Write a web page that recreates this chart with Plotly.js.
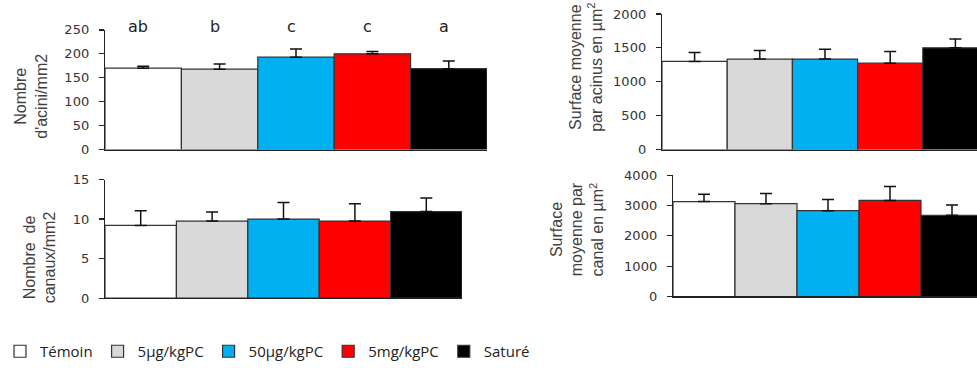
<!DOCTYPE html>
<html>
<head>
<meta charset="utf-8">
<script src="https://cdn.plot.ly/plotly-3.0.1.min.js"></script>
<style>html,body{margin:0;padding:0;overflow:hidden;background:#fff;}</style>
</head>
<body>
<div id="chart" style="width:1000px;height:368px;"></div>
<script>
// ---- data ----
const categories = ['Témoin', '5µg/kgPC', '50µg/kgPC', '5mg/kgPC', 'Saturé'];
const colors = ['#ffffff', '#d9d9d9', '#00b0f0', '#ff0000', '#000000'];

const aciniCount = [170, 168, 193, 200, 169];
const aciniCountErr = [4, 11, 17, 5, 16];
const aciniLetters = ['ab', 'b', 'c', 'c', 'a'];

const aciniArea = [1300, 1335, 1335, 1275, 1500];
const aciniAreaErr = [130, 125, 145, 170, 130];

const canalCount = [9.2, 9.75, 10.0, 9.75, 10.95];
const canalCountErr = [1.85, 1.15, 2.1, 2.2, 1.7];

const canalArea = [3130, 3060, 2830, 3170, 2680];
const canalAreaErr = [240, 340, 370, 460, 335];

const panels = [
  {vals: aciniCount, errs: aciniCountErr, xa: 'x', ya: 'y'},
  {vals: aciniArea, errs: aciniAreaErr, xa: 'x2', ya: 'y2'},
  {vals: canalCount, errs: canalCountErr, xa: 'x3', ya: 'y3'},
  {vals: canalArea, errs: canalAreaErr, xa: 'x4', ya: 'y4'}
];

const traces = [];
panels.forEach((p, pi) => {
  categories.forEach((c, i) => {
    traces.push({
      type: 'bar',
      x: [c], y: [p.vals[i]],
      xaxis: p.xa, yaxis: p.ya,
      name: c, legendgroup: c, showlegend: pi === 0,
      width: 1,
      marker: {color: colors[i], line: {color: '#333', width: 1.2}},
      error_y: {type: 'data', symmetric: false, array: [p.errs[i]], arrayminus: [0],
                color: '#111', thickness: 1.5, width: 6},
      hoverinfo: 'skip'
    });
  });
});

const W = 1000, H = 368;
const px = v => v / W;
const py = v => 1 - v / H;

const tickFont = {family: 'DejaVu Sans, Arial, sans-serif', size: 13, color: '#333'};
function xAxis(x0, x1, anchor) {
  return {domain: [px(x0), px(x1)], anchor: anchor, type: 'category', categoryarray: categories,
          range: [-0.5, 4.5], showline: true, linecolor: '#222', linewidth: 1.2,
          showticklabels: false, ticks: '', showgrid: false, zeroline: false, fixedrange: true};
}
function yAxis(y0, y1, range, dtick, anchor) {
  return {domain: [py(y0), py(y1)], anchor: anchor, range: range, dtick: dtick,
          showline: true, linecolor: '#222', linewidth: 1.2, ticks: 'outside', ticklen: 5,
          tickcolor: '#222', tickwidth: 1.2, ticklabelstandoff: 7, tickfont: tickFont,
          showgrid: false, zeroline: false, fixedrange: true};
}

const titleFont = {family: 'Liberation Sans Narrow, Liberation Sans, Arial, sans-serif', size: 16, color: '#404040'};
const annotations = [
  {text: "Nombre<br>d'acini/mm2", x: px(31), y: py(97)},
  {text: 'Surface moyenne<br>par acinus en µm<sup>2</sup>', x: px(586), y: py(68)},
  {text: 'Nombre  de<br>canaux/mm2', x: px(40), y: py(258)},
  {text: 'Surface<br>moyenne par<br>canal en µm<sup>2</sup>', x: px(577), y: py(230)}
].map(a => Object.assign(a, {xref: 'paper', yref: 'paper', textangle: -90, showarrow: false,
  xanchor: 'center', yanchor: 'middle', font: titleFont}));

aciniLetters.forEach((t, i) => {
  annotations.push({text: t, x: categories[i], y: py(27), xref: 'x', yref: 'paper', showarrow: false,
    xshift: -5, xanchor: 'center', yanchor: 'middle',
    font: {family: 'DejaVu Sans, Arial, sans-serif', size: 16, color: '#222'}});
});

const layout = {
  width: W, height: H,
  margin: {l: 0, r: 0, t: 0, b: 0},
  paper_bgcolor: '#fff', plot_bgcolor: 'rgba(0,0,0,0)',
  barmode: 'overlay',
  showlegend: true,
  legend: {orientation: 'h', x: 0, xanchor: 'left', y: py(352), yanchor: 'middle',
           font: {family: 'Open Sans, sans-serif', size: 15, color: '#222'}, traceorder: 'normal'},
  xaxis: xAxis(105, 487, 'y'),
  yaxis: yAxis(150, 30, [0, 250], 50, 'x'),
  xaxis2: xAxis(662, 988, 'y2'),
  yaxis2: yAxis(150, 14, [0, 2000], 500, 'x2'),
  xaxis3: xAxis(105, 462, 'y3'),
  yaxis3: yAxis(299, 180, [0, 15], 5, 'x3'),
  xaxis4: xAxis(673, 983, 'y4'),
  yaxis4: yAxis(297.3, 175.7, [0, 4000], 1000, 'x4'),
  annotations: annotations
};

Plotly.newPlot('chart', traces, layout, {staticPlot: true, displayModeBar: false});
</script>
</body>
</html>
